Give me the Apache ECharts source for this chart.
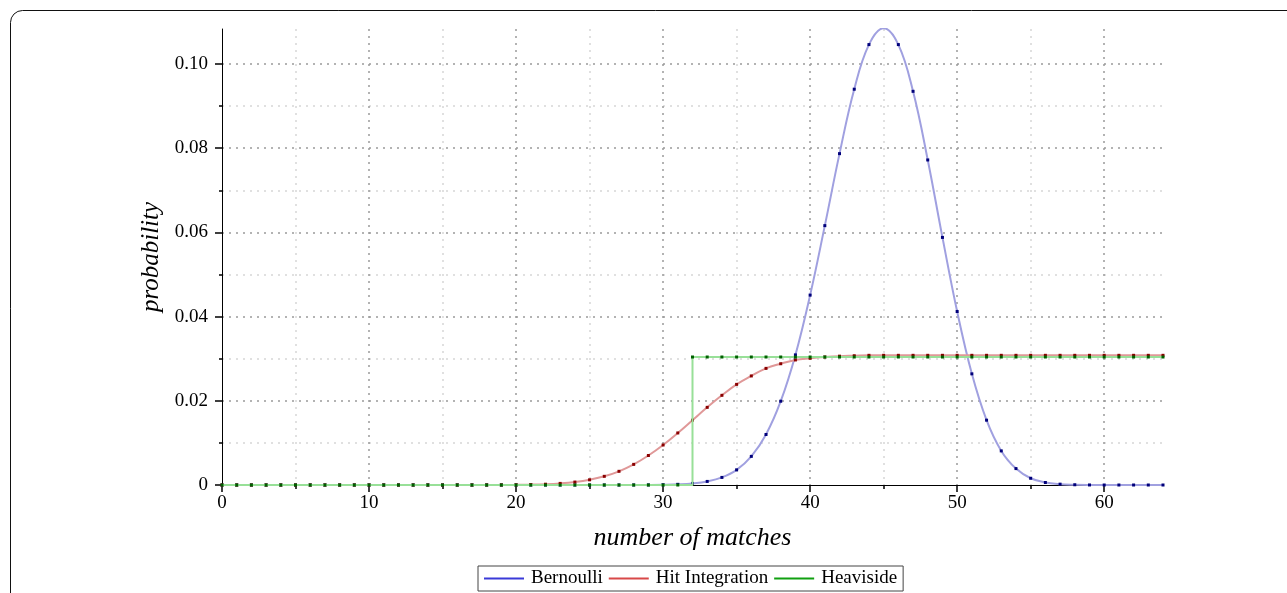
<!DOCTYPE html>
<html>
<head>
<meta charset="utf-8">
<script src="https://cdn.jsdelivr.net/npm/echarts@6/dist/echarts.min.js"></script>
<style>
  html, body { margin: 0; padding: 0; background: #fff; }
  #chart { width: 1287px; height: 593px; }
</style>
</head>
<body>
<div id="chart"></div>
<script>
"use strict";
/* data */
const matches = [0, 1, 2, 3, 4, 5, 6, 7, 8, 9, 10, 11, 12, 13, 14, 15, 16, 17, 18, 19,
  20, 21, 22, 23, 24, 25, 26, 27, 28, 29, 30, 31, 32, 33, 34, 35, 36, 37, 38, 39,
  40, 41, 42, 43, 44, 45, 46, 47, 48, 49, 50, 51, 52, 53, 54, 55, 56, 57, 58, 59,
  60, 61, 62, 63, 64];

const bernoulli = [0, 0, 0, 0, 0, 0, 0, 0, 0, 0, 0, 0, 0, 0, 0, 0, 0, 0, 0, 0,
  0, 0, 0, 0, 0, 0, 0, 0, 0.00001, 0.00002, 0.00006, 0.00016, 0.00038, 0.00085, 0.0018, 0.0036,
  0.0068, 0.0120, 0.0199, 0.0309, 0.0451, 0.0616, 0.0787, 0.0940, 0.1046, 0.1085, 0.1046, 0.0935,
  0.0772, 0.0588, 0.0412, 0.0264, 0.0154, 0.0081, 0.0039, 0.0016, 0.0006, 0.0002, 0.00006, 0.00001,
  0, 0, 0, 0, 0];

const hitIntegration = [0, 0, 0, 0, 0, 0, 0, 0, 0, 0, 0, 0, 0, 0, 0, 0, 0, 0, 0.00001, 0.00002,
  0.00004, 0.00009, 0.00019, 0.00038, 0.0007, 0.00123, 0.00206, 0.00325, 0.0049, 0.0070, 0.0095, 0.01236,
  0.0154, 0.01844, 0.0213, 0.0239, 0.0259, 0.0277, 0.0288, 0.0297, 0.0301, 0.0304, 0.0306, 0.0307,
  0.0308, 0.0308, 0.0308, 0.0308, 0.0308, 0.0308, 0.0308, 0.0308, 0.0308, 0.0308, 0.0308, 0.0308,
  0.0308, 0.0308, 0.0308, 0.0308, 0.0308, 0.0308, 0.0308, 0.0308, 0.0308];

const heaviside = [0, 0, 0, 0, 0, 0, 0, 0, 0, 0, 0, 0, 0, 0, 0, 0, 0, 0, 0, 0,
  0, 0, 0, 0, 0, 0, 0, 0, 0, 0, 0, 0, 0.0304, 0.0304, 0.0304, 0.0304, 0.0304, 0.0304, 0.0304, 0.0304,
  0.0304, 0.0304, 0.0304, 0.0304, 0.0304, 0.0304, 0.0304, 0.0304, 0.0304, 0.0304, 0.0304, 0.0304,
  0.0304, 0.0304, 0.0304, 0.0304, 0.0304, 0.0304, 0.0304, 0.0304, 0.0304, 0.0304, 0.0304, 0.0304, 0.0304];

const xTicks = [0, 10, 20, 30, 40, 50, 60];
const yTicks = [0, 0.02, 0.04, 0.06, 0.08, 0.10];

const SERIF = "Liberation Serif";
const pairs = (ys) => matches.map((x, i) => [x, ys[i]]);

const majorGrid = {show: true, showMinLine: false, showMaxLine: true,
  lineStyle: {color: "#9a9a9a", width: 1.5, type: [2, 5]}};
const minorGrid = {show: true, lineStyle: {color: "#d6d6d6", width: 1.5, type: [2, 5]}};

function curve(name, ys, line, dot, extra) {
  return Object.assign({
    name, type: "line", data: pairs(ys),
    symbol: "rect", symbolSize: 3, showSymbol: true, showAllSymbol: true,
    lineStyle: {color: line, width: 2},
    itemStyle: {color: dot},
    emphasis: {disabled: true}, animation: false,
  }, extra);
}

const chart = echarts.init(document.getElementById("chart"), null, {renderer: "canvas"});
chart.setOption({
  backgroundColor: "#fff",
  animation: false,
  textStyle: {fontFamily: SERIF, color: "#000"},
  graphic: [{
    type: "rect", silent: true, z: -1,
    shape: {x: 10.5, y: 10.5, width: 1320, height: 640, r: 12},
    style: {fill: "none", stroke: "#111", lineWidth: 1},
  }],
  grid: {left: 222, right: 124, top: 29, bottom: 108},
  legend: {
    left: 478, top: 566, orient: "horizontal",
    borderColor: "#444", borderWidth: 1, padding: [3, 6, 3, 6],
    itemGap: 6, itemWidth: 40, itemHeight: 2, icon: "rect",
    textStyle: {fontFamily: SERIF, fontSize: 19, color: "#000", padding: [0, 0, 0, 2]},
    data: [
      {name: "Bernoulli", itemStyle: {color: "#3a3ad8"}},
      {name: "Hit Integration", itemStyle: {color: "#d84848"}},
      {name: "Heaviside", itemStyle: {color: "#10a010"}},
    ],
  },
  xAxis: {
    type: "value", min: 0, max: 64, interval: 10,
    name: "number of matches", nameLocation: "middle", nameGap: 40,
    nameTextStyle: {fontFamily: SERIF, fontStyle: "italic", fontSize: 26, color: "#000"},
    axisLine: {onZero: false, lineStyle: {color: "#000", width: 1}},
    axisTick: {length: 7, customValues: xTicks, lineStyle: {color: "#000", width: 1.5}},
    minorTick: {show: true, splitNumber: 2, length: 4, lineStyle: {color: "#000", width: 1.5}},
    axisLabel: {fontFamily: SERIF, fontSize: 19, color: "#000", margin: 9, customValues: xTicks},
    splitLine: majorGrid, minorSplitLine: minorGrid,
  },
  yAxis: {
    type: "value", min: 0, max: 0.1083, interval: 0.02,
    name: "probability", nameLocation: "middle", nameGap: 49, nameRotate: 90,
    nameTextStyle: {fontFamily: SERIF, fontStyle: "italic", fontSize: 25, color: "#000"},
    axisLine: {onZero: false, lineStyle: {color: "#000", width: 1}},
    axisTick: {length: 7, customValues: yTicks, lineStyle: {color: "#000", width: 1.5}},
    minorTick: {show: true, splitNumber: 2, length: 3, lineStyle: {color: "#000", width: 1.5}},
    axisLabel: {fontFamily: SERIF, fontSize: 19, color: "#000", margin: 14, customValues: yTicks,
      formatter: (v) => v === 0 ? "0" : v.toFixed(2)},
    splitLine: majorGrid, minorSplitLine: minorGrid,
  },
  series: [
    curve("Bernoulli", bernoulli, "#a0a0e0", "#00007a", {smooth: 0.4, z: 3}),
    curve("Hit Integration", hitIntegration, "#e09898", "#8a0000", {smooth: 0.4, z: 4}),
    curve("Heaviside", heaviside, "#98e098", "#006000", {step: "end", z: 5}),
  ],
});
</script>
</body>
</html>
